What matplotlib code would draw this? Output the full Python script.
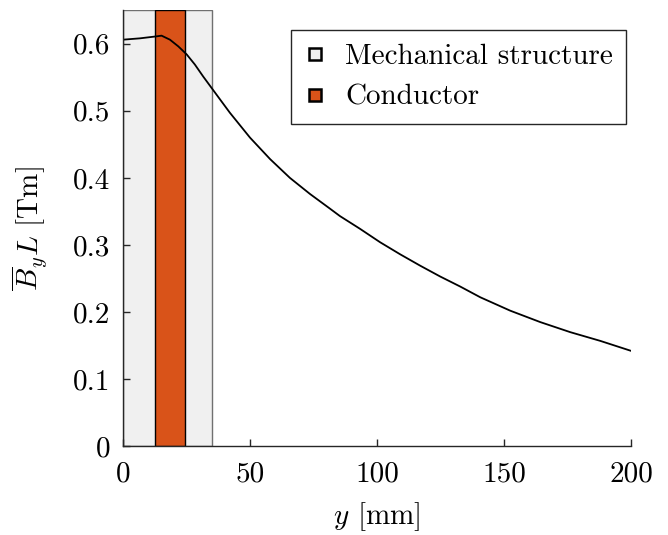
import matplotlib
matplotlib.use("Agg")
import matplotlib.pyplot as plt
from matplotlib.lines import Line2D

plt.rcParams['font.family'] = 'serif'
plt.rcParams['font.serif'] = ['cmr10', 'DejaVu Serif']
plt.rcParams['mathtext.fontset'] = 'cm'
plt.rcParams['axes.formatter.use_mathtext'] = True

# Data
y_mm = [0, 6.7, 13.3, 15.2, 18.5, 21.8, 25.1, 28.3, 31.6, 34.9, 38.2, 42.1, 50,
        57.9, 65.7, 73.6, 81.5, 85.4, 93.3, 101.2, 109.1, 117, 124.8, 132.7, 140.6,
        152.4, 164.2, 176, 187.8, 200]
ByL = [0.606, 0.608, 0.611, 0.612, 0.606, 0.596, 0.584, 0.569, 0.551, 0.534, 0.517,
       0.497, 0.460, 0.428, 0.400, 0.376, 0.354, 0.343, 0.324, 0.304, 0.286, 0.269,
       0.253, 0.238, 0.222, 0.202, 0.185, 0.170, 0.157, 0.142]
mech_span = [0, 35]
cond_span = [12.5, 24.5]
xticks = [0, 50, 100, 150, 200]
yticks = [0, 0.1, 0.2, 0.3, 0.4, 0.5, 0.6]
ytick_labels = ['0', '0.1', '0.2', '0.3', '0.4', '0.5', '0.6']

fig = plt.figure(figsize=(6.68, 5.35), dpi=100)
ax = fig.add_axes([0.184, 0.166, 0.761, 0.815])

mech_color = '#f0f0f0'
cond_color = '#d95319'
fs = 21

ax.axvspan(mech_span[0], mech_span[1], facecolor=mech_color, edgecolor='#707070',
           linewidth=1.0, zorder=1)
ax.axvspan(cond_span[0], cond_span[1], facecolor=cond_color, edgecolor='black',
           linewidth=1.0, zorder=2)
ax.plot(y_mm, ByL, color='black', linewidth=1.3, zorder=3)

ax.set_xlim(0, 200)
ax.set_ylim(0, 0.65)
ax.set_xticks(xticks)
ax.set_yticks(yticks)
ax.set_xticklabels([str(v) for v in xticks])
ax.set_yticklabels(ytick_labels)
ax.tick_params(direction='in', length=5, width=1.0, labelsize=fs, colors='#262626',
               labelcolor='black')
ax.tick_params(axis='x', pad=11)
ax.tick_params(axis='y', pad=9)
for side in ['top', 'right']:
    ax.spines[side].set_visible(False)
for side in ['left', 'bottom']:
    ax.spines[side].set_color('#262626')
    ax.spines[side].set_linewidth(1.0)
    ax.spines[side].set_zorder(5)

ax.set_xlabel(r'$y$ [mm]', fontsize=fs, labelpad=9)
ax.set_ylabel(r'$\overline{B}_y L$ [Tm]', fontsize=fs, labelpad=17)

handles = [
    Line2D([], [], linestyle='none', marker='s', markersize=9, markerfacecolor=mech_color,
           markeredgecolor='black', markeredgewidth=1.8),
    Line2D([], [], linestyle='none', marker='s', markersize=9, markerfacecolor=cond_color,
           markeredgecolor='black', markeredgewidth=1.8),
]
leg = ax.legend(handles, ['Mechanical structure', 'Conductor'], loc='upper right',
                bbox_to_anchor=(0.990, 0.954), borderaxespad=0, fontsize=fs,
                fancybox=False, edgecolor='#262626', framealpha=1, handlelength=0.7,
                handletextpad=0.7, borderpad=0.45, labelspacing=0.5)
leg.get_frame().set_linewidth(1.0)

fig.savefig('out.png', dpi=100)
